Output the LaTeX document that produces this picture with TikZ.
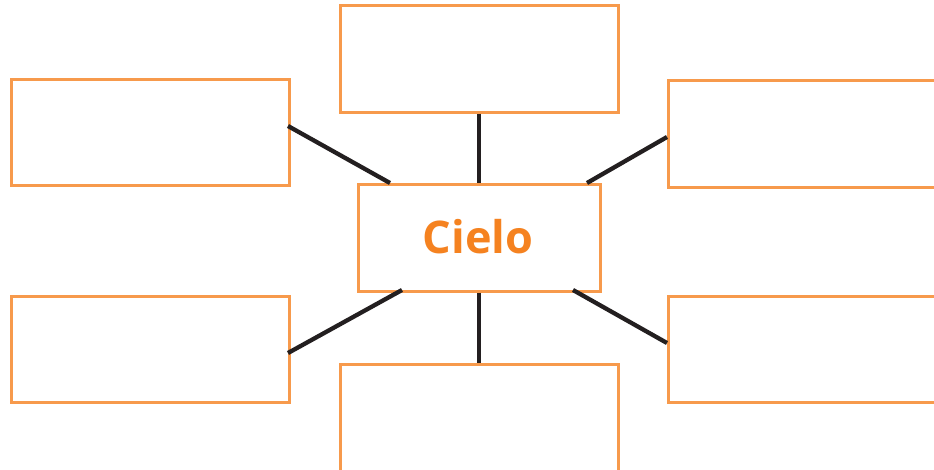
\documentclass[tikz,border=0pt]{standalone}
\usepackage{fontspec}
\newfontfamily\cielofont{Open Sans}
\definecolor{boxorange}{HTML}{F79A4C}
\definecolor{textorange}{HTML}{F58220}
\definecolor{linedark}{HTML}{231F20}
\begin{document}
\begin{tikzpicture}[x=1pt,y=-1pt,
  boxst/.style={draw=boxorange,line width=2.6pt,fill=white,inner sep=0pt,anchor=north west},
  link/.style={draw=linedark,line width=4.3pt}]
\useasboundingbox (0,0) rectangle (934,469);
\clip (0,0) rectangle (934,469);
% boxes
\node[boxst,minimum width=278pt,minimum height=107pt] (top) at (339,4) {};
\node[boxst,minimum width=278pt,minimum height=106pt] (lt) at (10,78) {};
\node[boxst,minimum width=290pt,minimum height=107pt] (rt) at (667,79) {};
\node[boxst,minimum width=278pt,minimum height=106pt] (lb) at (10,295) {};
\node[boxst,minimum width=290pt,minimum height=106pt] (rb) at (667,295) {};
\node[boxst,minimum width=278pt,minimum height=120pt] (bot) at (339,363) {};
\node[boxst,minimum width=242pt,minimum height=107pt] (c) at (357,183) {};
\node[text=textorange,font=\cielofont\bfseries\fontsize{45}{50}\selectfont] (lbl) at (478,237) {Cielo};
% connector end points
\coordinate (lte) at (288,126);
\coordinate (rte) at (667,137);
\coordinate (lbe) at (288,353);
\coordinate (rbe) at (667,343);
\coordinate (clt) at (390,183);
\coordinate (crt) at (587,183);
\coordinate (clb) at (402,290);
\coordinate (crb) at (573,290);
% connectors
\draw[link] (top.south) -- (top.south |- c.north);
\draw[link] (bot.north |- c.south) -- (bot.north);
\draw[link] (lte) -- (clt);
\draw[link] (rte) -- (crt);
\draw[link] (lbe) -- (clb);
\draw[link] (rbe) -- (crb);
\end{tikzpicture}
\end{document}
